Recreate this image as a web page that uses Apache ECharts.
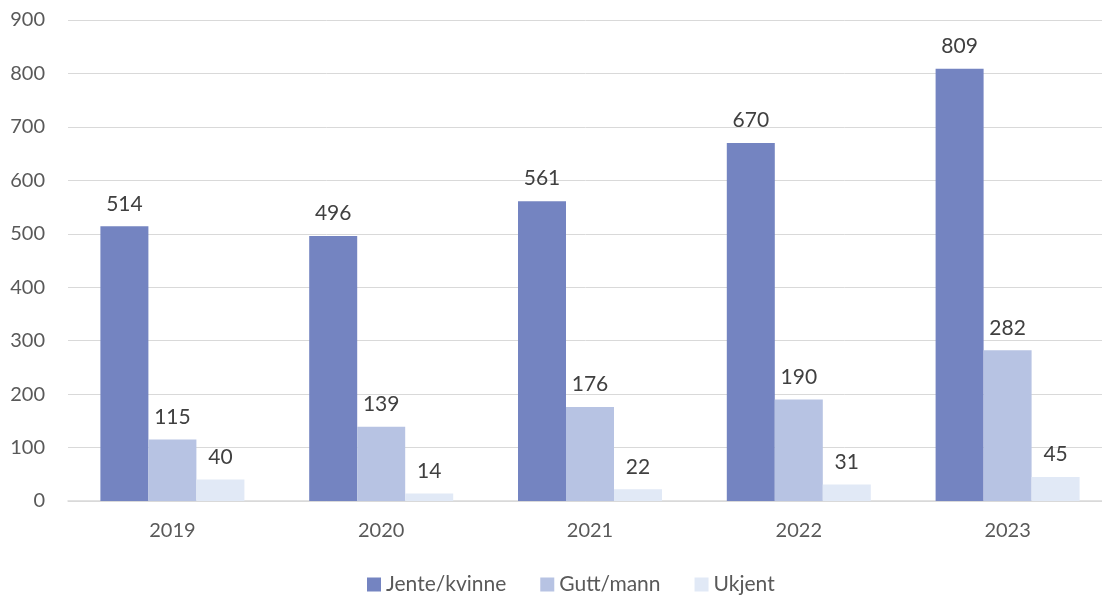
<!DOCTYPE html>
<html>
<head>
<meta charset="utf-8">
<script src="https://cdn.jsdelivr.net/npm/echarts@6/dist/echarts.min.js"></script>
<style>
  html, body { margin: 0; padding: 0; background: #fff; }
  #chart { width: 1102px; height: 596px; }
</style>
</head>
<body>
<div id="chart"></div>
<script>
  // data
  var years = ['2019', '2020', '2021', '2022', '2023'];
  var jente = [514, 496, 561, 670, 809];
  var gutt = [115, 139, 176, 190, 282];
  var ukjent = [40, 14, 22, 31, 45];
  var seriesNames = ['Jente/kvinne', 'Gutt/mann', 'Ukjent'];
  var colors = ['#7484C1', '#B7C3E3', '#E1E9F6'];

  var font = 'Lato, "Open Sans", sans-serif';

  function barSeries(name, data, color) {
    return {
      name: name,
      type: 'bar',
      data: data,
      barWidth: 48,
      barGap: '0%',
      itemStyle: { color: color },
      label: {
        show: true,
        position: 'top',
        distance: 12,
        color: '#404040',
        fontSize: 21,
        fontFamily: font
      }
    };
  }

  var option = {
    animation: false,
    color: colors,
    grid: {
      left: 68,
      right: -10,
      top: 20,
      bottom: 95,
      outerBoundsMode: 'none'
    },
    legend: {
      bottom: -4,
      left: 362,
      itemWidth: 14,
      itemHeight: 14,
      itemGap: 34,
      icon: 'rect',
      textStyle: { color: '#595959', fontSize: 21, fontFamily: font },
      data: seriesNames
    },
    xAxis: {
      type: 'category',
      data: years,
      axisLine: { lineStyle: { color: '#D9D9D9', width: 1.5 } },
      axisTick: { show: false },
      axisLabel: { color: '#595959', fontSize: 20, fontFamily: font, margin: 20 }
    },
    yAxis: {
      type: 'value',
      min: 0,
      max: 900,
      interval: 100,
      axisLine: { show: false },
      axisTick: { show: false },
      splitLine: { lineStyle: { color: '#D9D9D9', width: 1 } },
      axisLabel: { color: '#595959', fontSize: 20, fontFamily: font, margin: 23 }
    },
    series: [
      barSeries(seriesNames[0], jente, colors[0]),
      barSeries(seriesNames[1], gutt, colors[1]),
      barSeries(seriesNames[2], ukjent, colors[2])
    ]
  };

  var chart = echarts.init(document.getElementById('chart'));
  chart.setOption(option);
</script>
</body>
</html>
